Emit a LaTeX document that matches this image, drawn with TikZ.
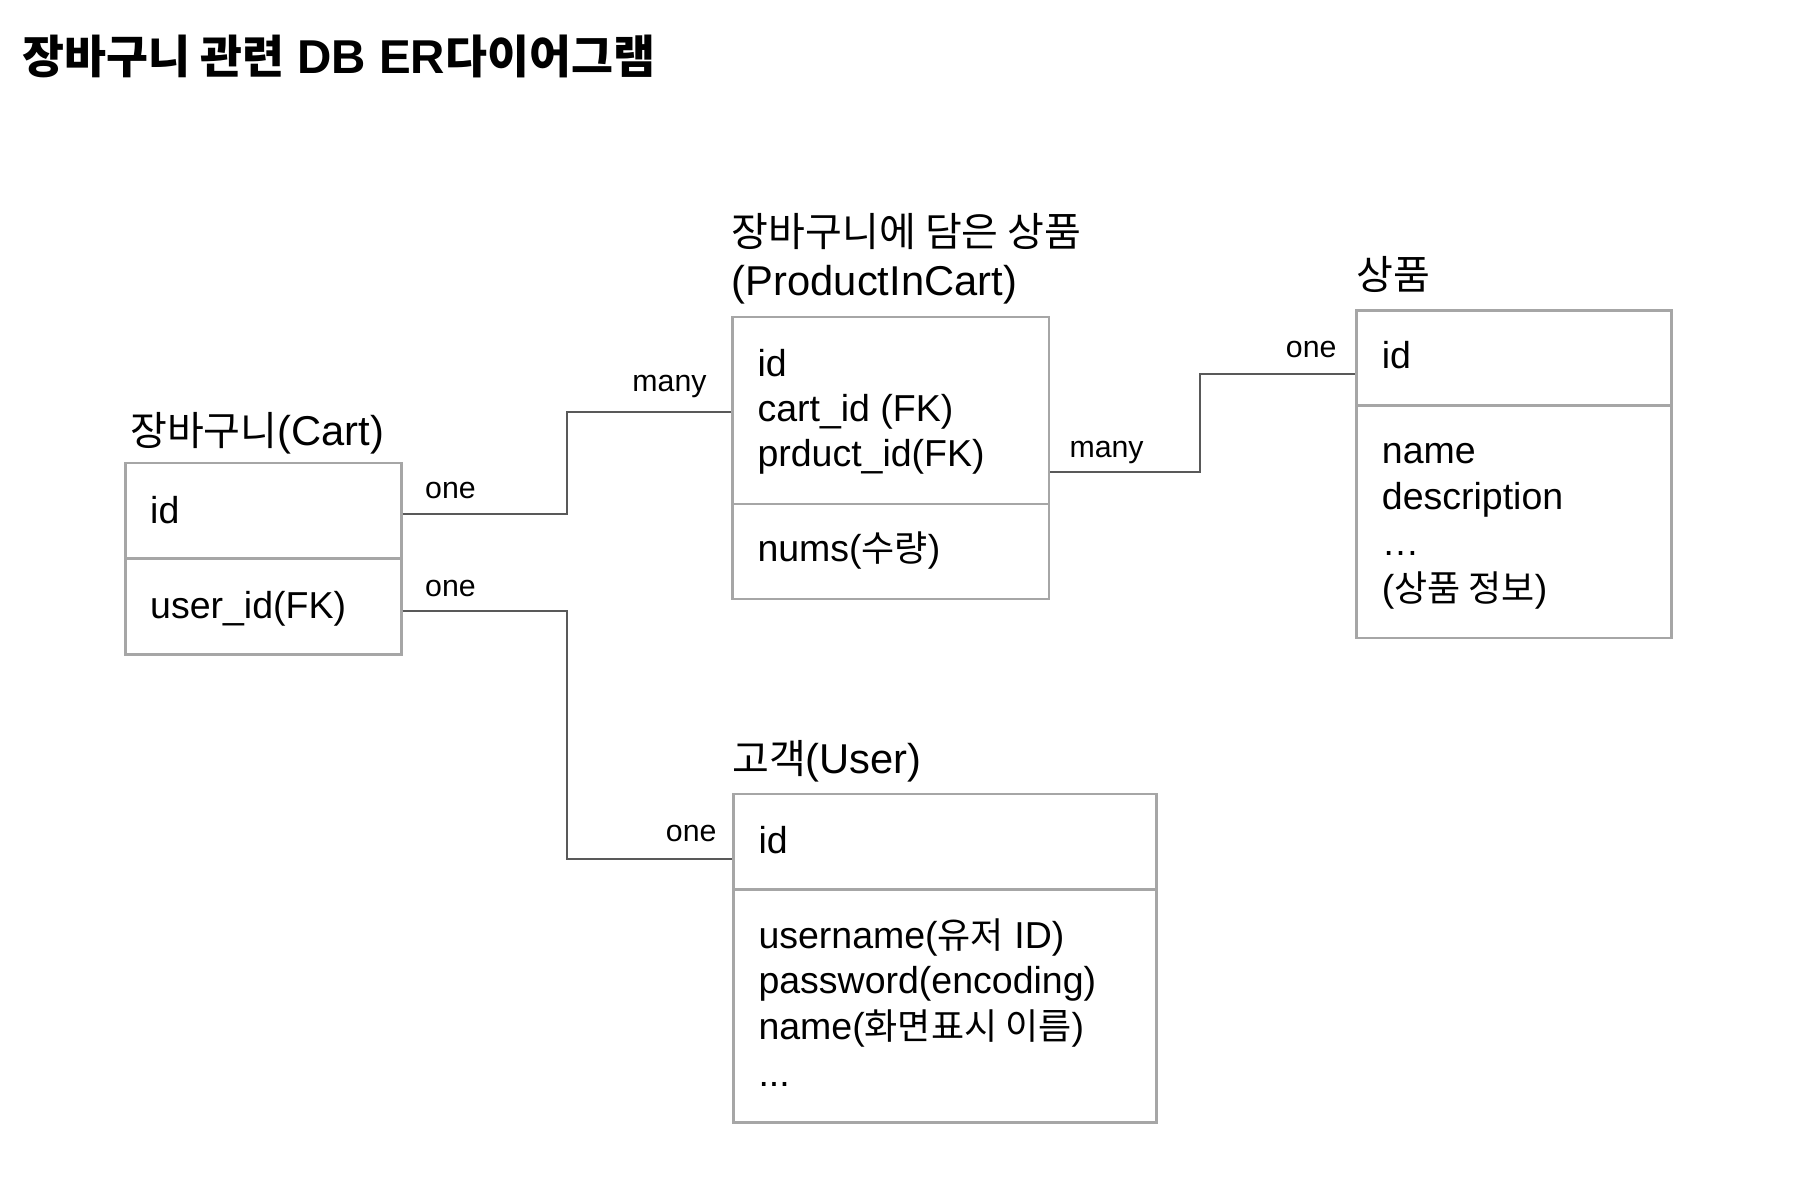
\documentclass[tikz,border=0pt]{standalone}
\usepackage{fontspec}
\setmainfont{Liberation Sans}
\newfontfamily\kr[Scale=0.96]{Noto Sans CJK KR}
\definecolor{boxgray}{HTML}{A6A6A6}
\definecolor{conngray}{HTML}{595959}
\tikzset{
  rowbox/.style={draw=boxgray, line width=2.6pt, anchor=north west, inner sep=0pt},
  txt/.style={anchor=base west, inner sep=0pt, font=\fontsize{37.5}{45}\selectfont},
  hdr/.style={anchor=base west, inner sep=0pt, font=\fontsize{41.7}{50}\selectfont},
  lbl/.style={inner sep=0pt, font=\fontsize{30.3}{36}\selectfont},
  ttl/.style={anchor=base west, inner sep=0pt, font=\fontsize{47.5}{56}\selectfont\bfseries},
  conn/.style={draw=conngray, line width=2.2pt}
}
\begin{document}
\begin{tikzpicture}[x=1pt,y=-1pt]
\useasboundingbox[fill=white] (0,0) rectangle (1798,1182);

% main title
\node[ttl] (title) at (22,73.5) {{\kr 장바구니 관련} DB ER{\kr 다이어그램}};

% Cart
\node[hdr] (cartttl) at (130,445) {{\kr 장바구니}(Cart)};
\node[rowbox, minimum width=275.7pt, minimum height=95.6pt] (cartid) at (124.3,461.7) {};
\node[rowbox, minimum width=275.7pt, minimum height=96pt] (cartuser) at (124.3,557.3) {};
\node[txt] (cartidt) at (150,523) {id};
\node[txt] (cartusert) at (150,618.3) {user\_id(FK)};

% ProductInCart
\node[hdr] (picttl1) at (731.7,246.7) {{\kr 장바구니에 담은 상품}};
\node[hdr] (picttl2) at (731.7,295) {(ProductInCart)};
\node[rowbox, minimum width=316.7pt, minimum height=187pt] (picid) at (731,315.7) {};
\node[rowbox, minimum width=316.7pt, minimum height=95pt] (picnums) at (731,502.7) {};
\node[txt] (pict1) at (757.3,376) {id};
\node[txt] (pict2) at (757.3,421.7) {cart\_id (FK)};
\node[txt] (pict3) at (757.3,466.7) {prduct\_id(FK)};
\node[txt] (pict4) at (757.3,561.7) {nums({\kr 수량})};

% Product
\node[hdr] (prodttl) at (1356.7,290) {{\kr 상품}};
\node[rowbox, minimum width=315pt, minimum height=95pt] (prodid) at (1355,309) {};
\node[rowbox, minimum width=315pt, minimum height=232.7pt] (prodinfo) at (1355,404) {};
\node[txt] (prodt1) at (1381.7,368.3) {id};
\node[txt] (prodt2) at (1381.7,463.3) {name};
\node[txt] (prodt3) at (1381.7,509.5) {description};
\node[txt] (prodt4) at (1381.7,555.5) {…};
\node[txt] (prodt5) at (1381.7,601.7) {({\kr 상품 정보})};

% User
\node[hdr] (userttl) at (732,773) {{\kr 고객}(User)};
\node[rowbox, minimum width=423pt, minimum height=95.6pt] (userid) at (732,792.7) {};
\node[rowbox, minimum width=423pt, minimum height=232.7pt] (userinfo) at (732,888.3) {};
\node[txt] (usert1) at (758.3,853.3) {id};
\node[txt] (usert2) at (758.3,948.3) {username({\kr 유저} ID)};
\node[txt] (usert3) at (758.3,993.3) {password(encoding)};
\node[txt] (usert4) at (758.3,1039.5) {name({\kr 화면표시 이름})};
\node[txt] (usert5) at (758.3,1086.7) {...};

% connectors
\draw[conn] ([yshift=-2.8pt]cartid.east) -- ++(164.4,0) |- ([yshift=-1.5pt]picid.west);
\draw[conn] ([yshift=-4.7pt]cartuser.east) -- ++(164.4,0) |- ([yshift=-17.2pt]userid.west);
\draw[conn] ([yshift=-61.5pt]picid.east) -- ++(149.3,0) |- ([yshift=-15.8pt]prodid.west);

% cardinality labels
\node[lbl, anchor=base west] (l1) at (425,498) {one};
\node[lbl, anchor=base west] (l2) at (425,596) {one};
\node[lbl, anchor=base east] (l3) at (706.7,391.7) {many};
\node[lbl, anchor=base west] (l4) at (1069.3,457.3) {many};
\node[lbl, anchor=base east] (l5) at (1336.7,357.3) {one};
\node[lbl, anchor=base east] (l6) at (716.7,841.7) {one};
\end{tikzpicture}
\end{document}
